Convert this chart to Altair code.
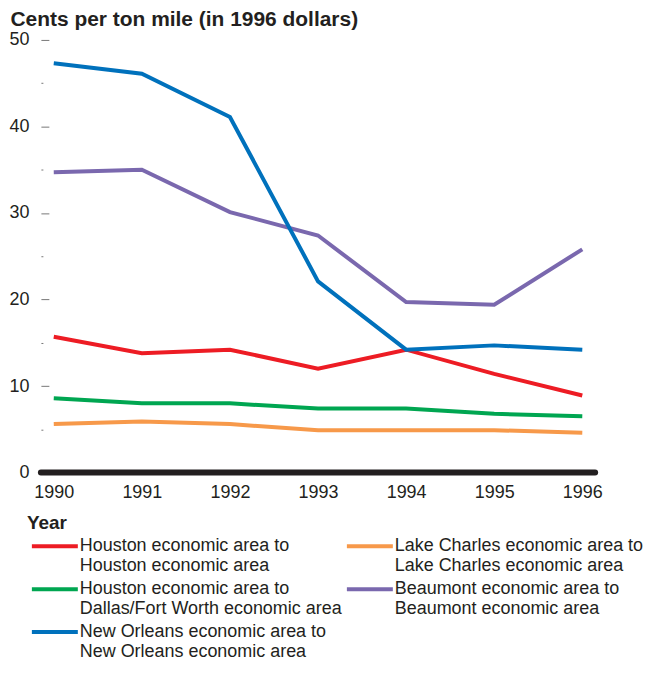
import altair as alt
import pandas as pd

years = [1990, 1991, 1992, 1993, 1994, 1995, 1996]
series_names = [
    "Houston economic area to|Houston economic area",
    "Lake Charles economic area to|Lake Charles economic area",
    "Houston economic area to|Dallas/Fort Worth economic area",
    "Beaumont economic area to|Beaumont economic area",
    "New Orleans economic area to|New Orleans economic area",
]
series_colors = ["#ED1C24", "#F7994A", "#00A651", "#7A68AE", "#0071BC"]
houston_houston = [15.7, 13.8, 14.2, 12.0, 14.2, 11.4, 8.9]
lake_charles = [5.6, 5.9, 5.6, 4.9, 4.9, 4.9, 4.6]
houston_dfw = [8.6, 8.0, 8.0, 7.4, 7.4, 6.8, 6.5]
beaumont = [34.7, 35.0, 30.1, 27.4, 19.7, 19.4, 25.8]
new_orleans = [47.3, 46.1, 41.1, 22.1, 14.2, 14.7, 14.2]
y_ticks = [0, 5, 10, 15, 20, 25, 30, 35, 40, 45, 50]

all_values = [houston_houston, lake_charles, houston_dfw, beaumont, new_orleans]
rows = []
for name, vals in zip(series_names, all_values):
    for yr, v in zip(years, vals):
        rows.append({"year": yr, "value": v, "series": name})
df = pd.DataFrame(rows)

TXT = "#231F20"
FONT = "Liberation Sans"
W, H = 562, 434

x_scale = alt.Scale(domain=[1989.82, 1996.18], nice=False, zero=False)
y_scale = alt.Scale(domain=[0, 50], nice=False)

lines = alt.Chart(df).mark_line(strokeWidth=4, strokeJoin="miter").encode(
    x=alt.X("year:Q", scale=x_scale, title=None,
            axis=alt.Axis(values=years, format="d", domain=False, ticks=False, tickSize=0,
                          grid=False, labelFontSize=18, labelColor=TXT, labelFont=FONT,
                          labelPadding=11)),
    y=alt.Y("value:Q", scale=y_scale,
            axis=alt.Axis(values=y_ticks, domain=False, grid=False, offset=-11,
                          title="Cents per ton mile (in 1996 dollars)",
                          titleAngle=0, titleAlign="left", titleBaseline="top",
                          titleX=-39, titleY=-31, titleFontSize=21, titleFontWeight="bold",
                          titleColor=TXT, titleFont=FONT,
                          labelExpr="datum.value % 10 === 0 ? datum.label : ''",
                          tickSize=8, tickWidth=1, tickColor="#777777",
                          tickDash={"condition": {"test": "datum.value % 10 !== 0", "value": [0, 6, 2, 10]},
                                    "value": [8, 0]},
                          labelFontSize=18, labelColor=TXT, labelFont=FONT, labelPadding=12)),
    color=alt.Color("series:N", sort=series_names,
                    scale=alt.Scale(domain=series_names, range=series_colors),
                    legend=alt.Legend(
                        title="Year", orient="none", legendX=-11, legendY=476,
                        columns=2, direction="horizontal",
                        titleFontSize=19, titleFontWeight="bold", titleColor=TXT, titleFont=FONT,
                        titlePadding=4, titleAnchor="start",
                        labelFontSize=18, labelColor=TXT, labelFont=FONT,
                        labelExpr="split(datum.label, '|')", labelLimit=400,
                        labelBaseline="middle", labelOffset=16,
                        symbolType="M-5,0H5", symbolSize=85, symbolStrokeWidth=4,
                        symbolOffset=19, rowPadding=5, columnPadding=-14, padding=0,
                    )),
)

baseline = alt.Chart(pd.DataFrame({"v": [0]})).mark_rule(
    color=TXT, strokeWidth=6, strokeCap="round"
).encode(x=alt.value(3), x2=alt.value(W - 3), y=alt.Y("v:Q", scale=y_scale))

chart = alt.layer(lines, baseline).properties(
    width=W, height=H,
    padding=0,
).configure_view(stroke=None)

chart.save("out.html", embed_options={"renderer": "svg", "actions": False})
